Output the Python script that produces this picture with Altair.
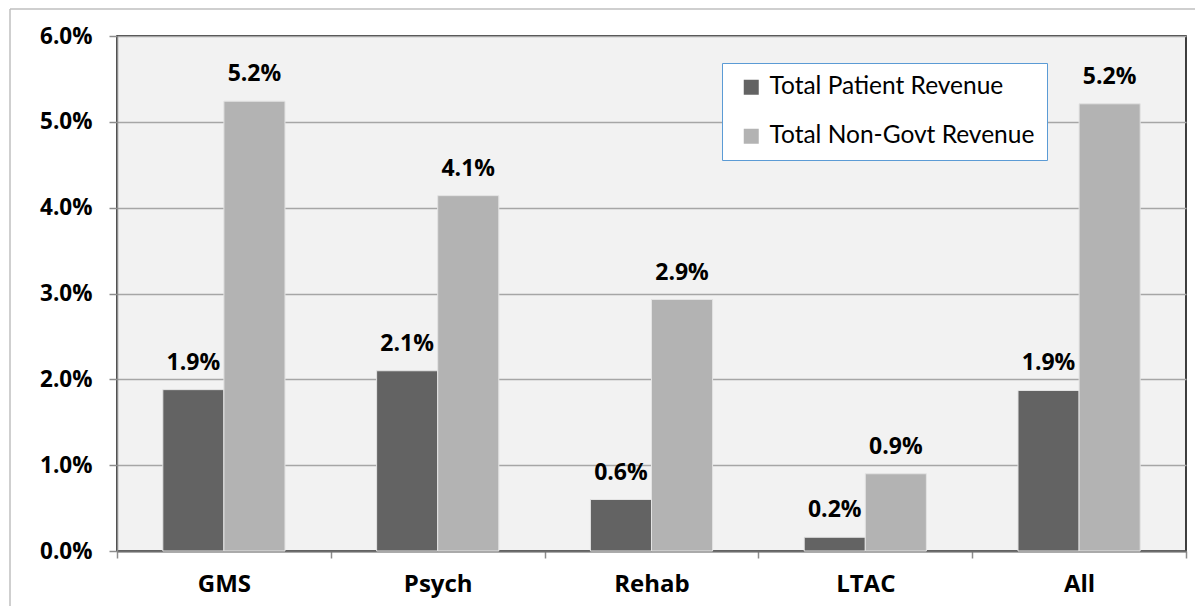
import altair as alt
import pandas as pd

categories = ["GMS", "Psych", "Rehab", "LTAC", "All"]
series_names = ["Total Patient Revenue", "Total Non-Govt Revenue"]
patient_rev = [0.0188, 0.0210, 0.0060, 0.0016, 0.0187]
nongovt_rev = [0.0524, 0.0414, 0.0293, 0.0090, 0.0521]
y_ticks = [0.0, 0.01, 0.02, 0.03, 0.04, 0.05, 0.06]

rows = []
for i, c in enumerate(categories):
    rows.append({"cat": c, "series": series_names[0], "value": patient_rev[i]})
    rows.append({"cat": c, "series": series_names[1], "value": nongovt_rev[i]})
df = pd.DataFrame(rows)

BOLD_FONT = "Open Sans"
LEG_FONT = "Lato"
W, H = 1069, 515
PAD = {"left": 109, "top": 28, "right": 9, "bottom": 55}

x_enc = alt.X(
    "cat:N", sort=categories,
    scale=alt.Scale(paddingInner=0, paddingOuter=0),
    axis=alt.Axis(
        title=None, labelAngle=0, labelFont=BOLD_FONT, labelFontWeight="bold",
        labelFontSize=24, labelColor="black", labelPadding=14,
        tickBand="extent", tickSize=7, tickColor="#8c8c8c", tickWidth=1.5,
        domainColor="#6e6e6e", domainWidth=2, grid=False,
    ),
)
xo_enc = alt.XOffset(
    "series:N", sort=series_names,
    scale=alt.Scale(domain=series_names, paddingInner=0, paddingOuter=0.75),
)
y_enc = alt.Y(
    "value:Q",
    scale=alt.Scale(domain=[0, 0.06]),
    axis=alt.Axis(
        title=None, format=".1%", values=y_ticks, labelFont=BOLD_FONT,
        labelFontWeight="bold", labelFontSize=22.5, labelColor="black",
        labelPadding=17, tickSize=8, tickColor="#8c8c8c", tickWidth=1.5,
        domainColor="#8c8c8c", domainWidth=1.5,
        grid=True, gridColor="#a6a6a6", gridWidth=1.5,
    ),
)
color_enc = alt.Color(
    "series:N", sort=series_names,
    scale=alt.Scale(domain=series_names, range=["#636363", "#b3b3b3"]),
    legend=alt.Legend(
        title=None, orient="none", legendX=605, legendY=27,
        fillColor="white", strokeColor="#5b9bd5",
        padding=12, symbolType="square", symbolSize=225, symbolOffset=5,
        symbolStrokeWidth=0, labelFont=LEG_FONT, labelFontSize=24.5,
        labelColor="black", labelOffset=6, rowPadding=24, labelLimit=500,
    ),
)

bars = alt.Chart(df).mark_bar(stroke="#e3e3e3", strokeWidth=1).encode(
    x=x_enc, xOffset=xo_enc, y=y_enc, color=color_enc
)

labels = alt.Chart(df).mark_text(
    font=BOLD_FONT, fontWeight="bold", fontSize=23, dy=-27,
    baseline="middle", color="black",
).encode(
    x=alt.X("cat:N", sort=categories),
    xOffset=xo_enc,
    y="value:Q",
    text=alt.Text("value:Q", format=".1%"),
)

frame_df = pd.DataFrame({"k": [0]})
frame_left = alt.Chart(frame_df).mark_rule(color="#bfbfbf", strokeWidth=1.5).encode(
    x=alt.value(-107), y=alt.value(-27), y2=alt.value(H + PAD["bottom"])
)
frame_top = alt.Chart(frame_df).mark_rule(color="#bfbfbf", strokeWidth=1.5).encode(
    x=alt.value(-107), x2=alt.value(W + PAD["right"]), y=alt.value(-27)
)

chart = alt.layer(bars, labels, frame_left, frame_top).properties(
    width=W, height=H, padding=PAD,
    autosize=alt.AutoSizeParams(type="none"),
    background="white",
).configure_view(
    fill="#f2f2f2", stroke="black", strokeWidth=1.5
)

chart.save("out.html", embed_options={"renderer": "svg", "actions": False})
